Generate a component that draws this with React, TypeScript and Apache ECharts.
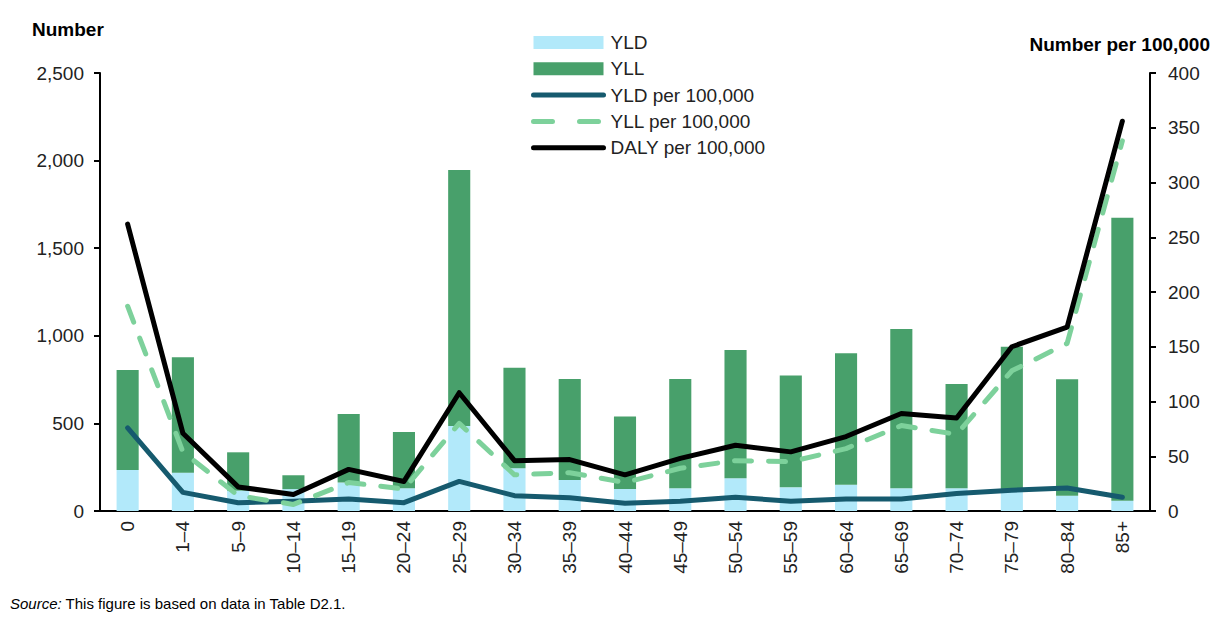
import React, { useEffect, useRef } from "react";
import * as echarts from "echarts";

const categories = ["0", "1–4", "5–9", "10–14", "15–19", "20–24", "25–29", "30–34", "35–39", "40–44", "45–49", "50–54", "55–59", "60–64", "65–69", "70–74", "75–79", "80–84", "85+"];
const yldNumber = [234, 219, 116, 125, 162, 130, 485, 244, 177, 126, 130, 187, 135, 150, 130, 130, 120, 87, 59];
const yllNumber = [571, 658, 219, 79, 392, 321, 1461, 574, 576, 414, 623, 732, 639, 750, 909, 595, 818, 665, 1615];
const yldRate = [76, 17, 7.6, 9, 11, 7.6, 27, 14, 12, 7, 9, 12.5, 9, 11, 11, 16, 19, 21, 12.5];
const yllRate = [187, 54, 14, 6, 26, 20, 80, 33, 35, 26, 39, 46, 45, 57, 78, 70, 128, 153, 338];
const dalyRate = [262, 71, 22, 15, 38, 27, 108, 46, 47, 33, 48, 60, 54, 68, 89, 85, 150, 168, 356];
const leftTicks = { min: 0, max: 2500, interval: 500 };
const rightTicks = { min: 0, max: 400, interval: 50 };

const FONT = "'Liberation Sans', Arial, sans-serif";

export default function App() {
  const ref = useRef<HTMLDivElement>(null);
  useEffect(() => {
    if (!ref.current) return;
    const chart = echarts.init(ref.current, undefined, { renderer: "svg" });
    const fmt = (v: number) => v.toLocaleString("en-US");
    const lineLegend = (name: string, color: string, type: any) => ({
      name,
      itemStyle: { opacity: 0 },
      lineStyle: { color, width: 5, type, cap: "round", opacity: 1 },
    });
    chart.setOption({
      animation: false,
      textStyle: { fontFamily: FONT },
      grid: { left: 100, right: 81, top: 73, bottom: 112 },
      legend: {
        orient: "vertical",
        left: 526,
        top: 28,
        itemWidth: 70,
        itemHeight: 13,
        itemGap: 7.3,
        textStyle: { fontFamily: FONT, fontSize: 19, color: "#222", padding: [0, 0, 0, 2] },
        data: [
          { name: "YLD", icon: "rect" },
          { name: "YLL", icon: "rect" },
          lineLegend("YLD per 100,000", "#165A6E", "solid"),
          lineLegend("YLL per 100,000", "#7DD19B", [19, 27]),
          lineLegend("DALY per 100,000", "#000", "solid"),
        ],
      },
      xAxis: {
        type: "category",
        data: categories,
        axisLine: { lineStyle: { color: "#000", width: 2 } },
        axisTick: { show: false },
        axisLabel: { rotate: 90, fontSize: 19, color: "#222", margin: 10, fontFamily: FONT },
      },
      yAxis: [
        {
          type: "value",
          ...leftTicks,
          axisLine: { show: true, lineStyle: { color: "#000", width: 2 } },
          axisTick: { show: true, length: 6, lineStyle: { color: "#000", width: 2 } },
          splitLine: { show: false },
          axisLabel: { fontSize: 19, color: "#222", margin: 16, formatter: fmt, fontFamily: FONT },
        },
        {
          type: "value",
          ...rightTicks,
          position: "right",
          axisLine: { show: true, lineStyle: { color: "#000", width: 2 } },
          axisTick: { show: true, length: 6, lineStyle: { color: "#000", width: 2 } },
          splitLine: { show: false },
          axisLabel: { fontSize: 19, color: "#222", margin: 18, formatter: fmt, fontFamily: FONT },
        },
      ],
      series: [
        { name: "YLD", type: "bar", stack: "n", barWidth: "40%", data: yldNumber, itemStyle: { color: "#B2E9FA" } },
        { name: "YLL", type: "bar", stack: "n", barWidth: "40%", data: yllNumber, itemStyle: { color: "#48A06B" } },
        {
          name: "YLD per 100,000", type: "line", yAxisIndex: 1, data: yldRate, symbol: "none",
          lineStyle: { color: "#165A6E", width: 5, cap: "round", join: "round" }, itemStyle: { color: "#165A6E" },
        },
        {
          name: "YLL per 100,000", type: "line", yAxisIndex: 1, data: yllRate, symbol: "none",
          lineStyle: { color: "#7DD19B", width: 5, type: [17, 17], cap: "round", join: "round" }, itemStyle: { color: "#7DD19B" },
        },
        {
          name: "DALY per 100,000", type: "line", yAxisIndex: 1, data: dalyRate, symbol: "none",
          lineStyle: { color: "#000", width: 5, cap: "round", join: "round" }, itemStyle: { color: "#000" },
        },
      ],
      graphic: [
        { type: "text", left: 32, top: 20, style: { text: "Number", font: `bold 19px ${FONT}`, fill: "#000" } },
        { type: "text", right: 21, top: 35, style: { text: "Number per 100,000", font: `bold 19px ${FONT}`, fill: "#000" } },
        {
          type: "text", left: 10, top: 596,
          style: {
            text: "{i|Source:} This figure is based on data in Table D2.1.",
            font: `15px ${FONT}`, fill: "#000",
            rich: { i: { fontStyle: "italic", fontSize: 15, fontFamily: FONT, fill: "#000" } },
          },
        },
      ],
    });
    return () => chart.dispose();
  }, []);
  return <div ref={ref} style={{ position: "absolute", left: 0, top: 0, width: 1231, height: 623 }} />;
}
